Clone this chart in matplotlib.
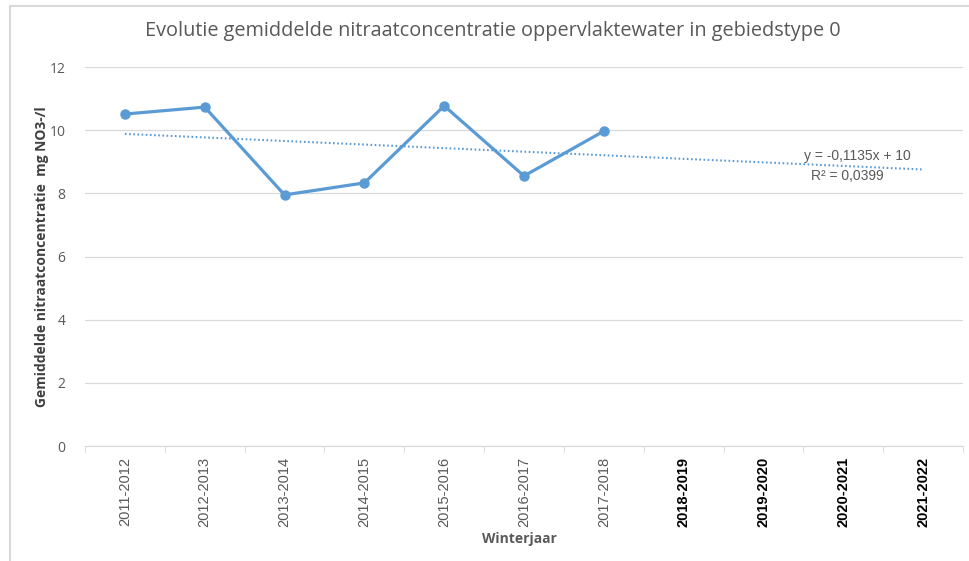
import numpy as np
import matplotlib.pyplot as plt
from matplotlib.lines import Line2D

# data
winterjaren = ['2011-2012', '2012-2013', '2013-2014', '2014-2015', '2015-2016',
               '2016-2017', '2017-2018', '2018-2019', '2019-2020', '2020-2021', '2021-2022']
nitraat = [10.51, 10.73, 7.95, 8.33, 10.77, 8.55, 9.97]

blue = '#5B9BD5'
grey = '#595959'
plt.rcParams['font.family'] = ['Open Sans', 'DejaVu Sans']

fig = plt.figure(figsize=(9.69, 5.61), dpi=100)
ax = fig.add_axes([85 / 969, 1 - 446 / 561, (963 - 85) / 969, (446 - 67) / 561])

x = np.arange(1, len(nitraat) + 1)
ax.plot(x, nitraat, color=blue, lw=2.3, marker='o', ms=6.5, zorder=3)

# linear trendline over all categories
slope, icpt = np.polyfit(x, nitraat, 1)
xt = np.arange(1, len(winterjaren) + 1)
ax.plot(xt, slope * xt + icpt, color=blue, lw=1.5, ls=(0, (0.8, 1.2)), zorder=2)
ax.text(9.51, 8.96, 'y = -0,1135x + 10', fontsize=10, color=grey, ha='left', va='bottom',
        family=['Liberation Sans', 'DejaVu Sans'])
ax.text(9.6, 8.34, 'R² = 0,0399', fontsize=10, color=grey, ha='left', va='bottom',
        family=['Liberation Sans', 'DejaVu Sans'])

ax.set_xlim(0.5, len(winterjaren) + 0.5)
ax.set_ylim(0, 12)
ax.set_yticks(range(0, 13, 2))
ax.yaxis.grid(True, color='#D9D9D9', lw=0.9)
ax.set_axisbelow(True)
for s in ['top', 'right', 'left']:
    ax.spines[s].set_visible(False)
ax.spines['bottom'].set_color('#D9D9D9')
ax.tick_params(axis='y', length=0, labelsize=10, labelcolor=grey, pad=14)

# category labels centred, tick marks on boundaries
ax.set_xticks(xt)
ax.set_xticklabels(winterjaren, rotation=90, fontsize=10.5, family=['Liberation Sans', 'DejaVu Sans'])
ax.tick_params(axis='x', which='major', length=0, pad=8)
for i, lab in enumerate(ax.get_xticklabels()):
    if i >= len(nitraat):
        lab.set_color('black')
        lab.set_fontweight('bold')
    else:
        lab.set_color(grey)
ax.set_xticks(np.arange(0.5, len(winterjaren) + 1), minor=True)
ax.tick_params(axis='x', which='minor', length=5, color='#D9D9D9')

ax.set_title('Evolutie gemiddelde nitraatconcentratie oppervlaktewater in gebiedstype 0',
             fontsize=14.3, color=grey, pad=22, x=0.465)
ax.set_ylabel('Gemiddelde nitraatconcentratie  mg NO3-/l', fontsize=10, fontweight='bold',
              color='#404040')
ax.yaxis.set_label_coords(-0.041, 0.5)
ax.set_xlabel('Winterjaar', fontsize=10, fontweight='bold', color=grey)
ax.xaxis.set_label_coords(0.495, -0.228)

# chart frame
fig.add_artist(Line2D([10 / 969, 10 / 969], [0, 1 - 6 / 561], color='#D9D9D9', lw=1.5))
fig.add_artist(Line2D([10 / 969, 1], [1 - 6 / 561, 1 - 6 / 561], color='#D9D9D9', lw=1.5))

fig.savefig('out.png', dpi=100)
